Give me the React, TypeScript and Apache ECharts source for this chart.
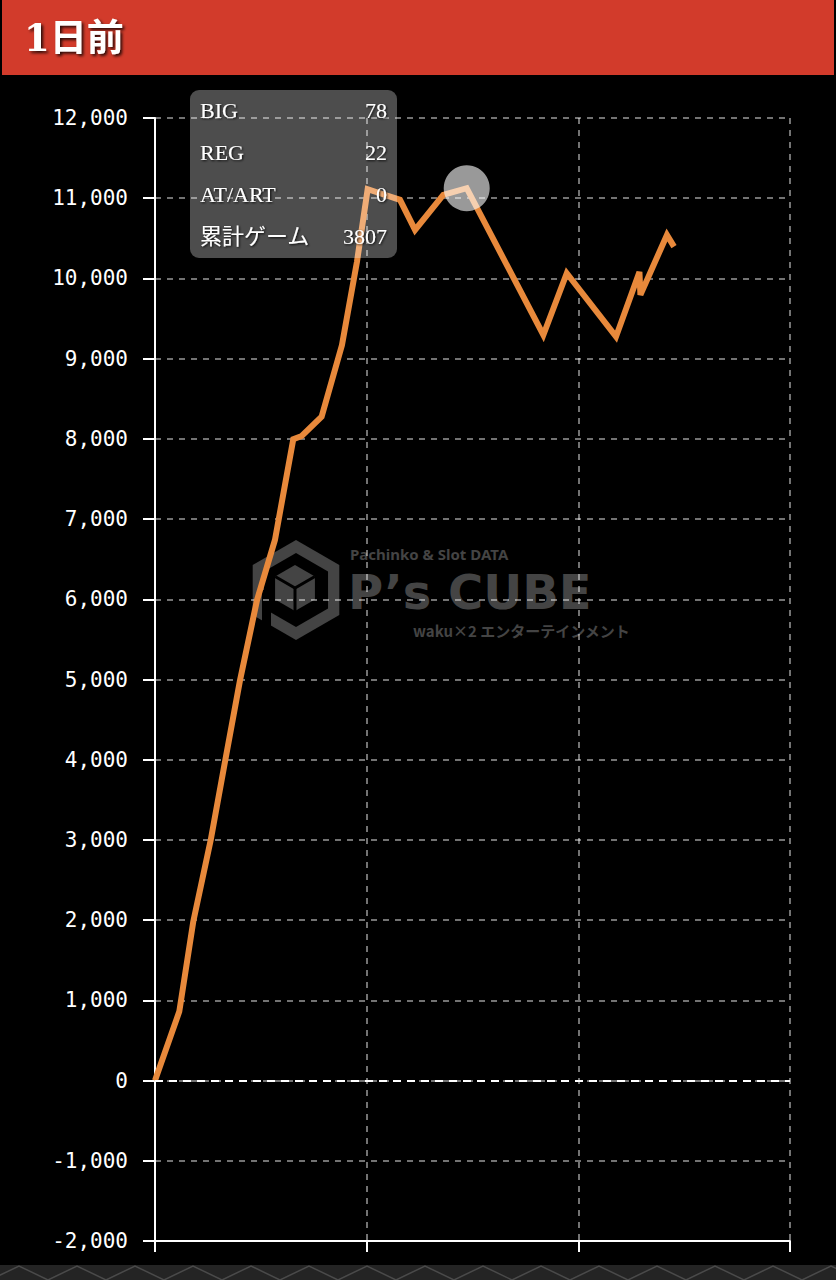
import React, { useEffect, useRef } from "react";
import * as echarts from "echarts";

const TITLE = "1日前";
// cumulative games (x) and coin difference (y)
const GAMES = [0, 172, 271, 395, 496, 602, 723, 850, 980, 1040, 1181, 1325, 1431, 1507, 1594, 1736, 1843, 2043, 2209, 2752, 2918, 3267, 3433, 3440, 3628, 3678];
const DIFF = [0, 860, 1980, 3000, 3975, 4985, 5990, 6740, 7995, 8036, 8277, 9170, 10205, 11112, 11062, 10980, 10605, 11041, 11125, 9295, 10065, 9274, 10081, 9795, 10542, 10396];
const HIGHLIGHT_INDEX = 18;

const Y_MIN = -2000;
const Y_MAX = 12000;
const Y_STEP = 1000;
const X_MIN = 0;
const X_MAX = 4500;
const X_STEP = 1500;

const TIP_LABELS = ["BIG", "REG", "AT/ART", "累計ゲーム"];
const TIP_VALUES = ["78", "22", "0", "3807"];

const WM_SUB = "Pachinko & Slot DATA";
const WM_MAIN = "P’s CUBE";
const WM_FOOT = "waku×2 エンターテインメント";

const WM_COLOR = "#444444";

export default function App() {
  const ref = useRef<HTMLDivElement>(null);

  useEffect(() => {
    document.body.style.margin = "0";
    document.body.style.background = "#000";
    if (!ref.current) return;
    const chart = echarts.init(ref.current, undefined, { renderer: "svg" });

    const lineData = GAMES.map((g, i) => [g, DIFF[i]]);

    const tipChildren: any[] = [
      {
        type: "rect",
        shape: { x: 190, y: 90, width: 207, height: 168, r: 9 },
        style: { fill: "rgba(255,255,255,0.3)" },
        z: 20,
      },
    ];
    TIP_LABELS.forEach((lab, i) => {
      const cy = 110 + i * 42;
      const common = {
        fill: "#fff",
        font: '22px "Liberation Serif", "Noto Sans CJK JP", serif',
        verticalAlign: "middle",
        textShadowColor: "rgba(0,0,0,0.85)",
        textShadowBlur: 2,
        textShadowOffsetX: 1,
        textShadowOffsetY: 1,
      };
      tipChildren.push({
        type: "text",
        z: 21,
        style: { ...common, text: lab, x: 200, y: cy, align: "left" },
      });
      tipChildren.push({
        type: "text",
        z: 21,
        style: { ...common, text: TIP_VALUES[i], x: 387, y: cy, align: "right" },
      });
    });

    const hex = (cx: number, cy: number, r: number) => {
      const pts: number[][] = [];
      for (let k = 0; k < 6; k++) {
        const a = (Math.PI / 180) * (-90 + 60 * k);
        pts.push([cx + r * Math.cos(a), cy + r * Math.sin(a)]);
      }
      return pts;
    };
    const icx = 296;
    const icy = 590;
    const zw = -5;
    const logo: any[] = [
      { type: "polygon", z: zw, shape: { points: hex(icx, icy, 50) }, style: { fill: WM_COLOR } },
      { type: "polygon", z: zw, shape: { points: hex(icx, icy, 37) }, style: { fill: "#000" } },
      { type: "polygon", z: zw, shape: { points: hex(icx - 1, icy - 2, 23) }, style: { fill: WM_COLOR } },
      {
        type: "polyline",
        z: zw,
        shape: { points: [[icx - 1 - 19.9, icy - 2 - 11.5], [icx - 1, icy - 2], [icx - 1 + 19.9, icy - 2 - 11.5]] },
        style: { stroke: "#000", lineWidth: 3, fill: null },
      },
      {
        type: "line",
        z: zw,
        shape: { x1: icx - 1, y1: icy - 2, x2: icx - 1, y2: icy + 21 },
        style: { stroke: "#000", lineWidth: 3 },
      },
      {
        type: "polygon",
        z: zw,
        shape: { points: [[262, 590], [271, 590], [271, 640], [262, 640]] },
        style: { fill: "#000" },
      },
      {
        type: "text",
        z: zw,
        style: { text: WM_SUB, x: 350, y: 554, fill: WM_COLOR, font: 'bold 15px "Noto Sans", sans-serif', verticalAlign: "middle" },
      },
      {
        type: "text",
        z: zw,
        style: { text: WM_MAIN, x: 348, y: 592, fill: WM_COLOR, font: 'bold 48px "DejaVu Sans", sans-serif', verticalAlign: "middle" },
      },
      {
        type: "text",
        z: zw,
        style: { text: WM_FOOT, x: 413, y: 630, fill: WM_COLOR, font: 'bold 15px "Noto Sans CJK JP", sans-serif', verticalAlign: "middle" },
      },
    ];

    const zig: number[][] = [];
    for (let k = 0; k <= 30; k++) zig.push([k * 29 - 10, k % 2 === 0 ? 1280 : 1266]);

    chart.setOption({
      animation: false,
      backgroundColor: "#000",
      grid: { left: 155, right: 46, top: 118, bottom: 39, containLabel: false },
      xAxis: {
        type: "value",
        min: X_MIN,
        max: X_MAX,
        interval: X_STEP,
        axisLine: { show: true, onZero: false, lineStyle: { color: "#fff", width: 2 } },
        axisTick: { show: true, length: 11, lineStyle: { color: "#fff", width: 2 } },
        axisLabel: { show: false },
        splitLine: { show: true, lineStyle: { color: "rgba(255,255,255,0.6)", type: [6, 6], width: 1.5 } },
      },
      yAxis: {
        type: "value",
        min: Y_MIN,
        max: Y_MAX,
        interval: Y_STEP,
        axisLine: { show: true, onZero: false, lineStyle: { color: "#fff", width: 2 } },
        axisTick: { show: true, length: 12, lineStyle: { color: "#fff", width: 2 } },
        axisLabel: {
          color: "#fff",
          fontFamily: '"DejaVu Sans Mono", monospace',
          fontSize: 21,
          margin: 27,
          formatter: (v: number) => v.toLocaleString("en-US"),
        },
        splitLine: { show: true, lineStyle: { color: "rgba(255,255,255,0.6)", type: [6, 6], width: 1.5 } },
      },
      series: [
        {
          type: "line",
          data: lineData,
          symbol: "none",
          z: 3,
          lineStyle: { color: "#e8893b", width: 6, join: "miter" },
          markLine: {
            silent: true,
            symbol: ["none", "none"],
            label: { show: false },
            lineStyle: { color: "#fff", type: [8, 6], width: 2 },
            data: [{ yAxis: 0 }],
          },
        },
        {
          type: "scatter",
          data: [lineData[HIGHLIGHT_INDEX]],
          symbolSize: 46,
          z: 4,
          itemStyle: { color: "rgba(255,255,255,0.75)" },
          silent: true,
        },
      ],
      graphic: [
        ...logo,
        {
          type: "rect",
          z: 20,
          shape: { x: 2, y: 0, width: 832, height: 75 },
          style: { fill: "#d23b2b" },
        },
        {
          type: "text",
          z: 21,
          style: {
            text: TITLE,
            x: 24,
            y: 38,
            fill: "#fff",
            font: 'bold 37px "DejaVu Serif", "Noto Sans CJK JP", serif',
            verticalAlign: "middle",
            textShadowColor: "rgba(0,0,0,0.8)",
            textShadowBlur: 3,
            textShadowOffsetX: 2,
            textShadowOffsetY: 2,
          },
        },
        ...tipChildren,
        {
          type: "rect",
          z: 20,
          shape: { x: 0, y: 1265, width: 836, height: 15 },
          style: { fill: "#242424" },
        },
        {
          type: "polyline",
          z: 21,
          shape: { points: zig },
          style: { stroke: "#4a4a4a", lineWidth: 1.5, fill: null },
        },
      ],
    });

    return () => chart.dispose();
  }, []);

  return <div ref={ref} style={{ width: 836, height: 1280 }} />;
}
